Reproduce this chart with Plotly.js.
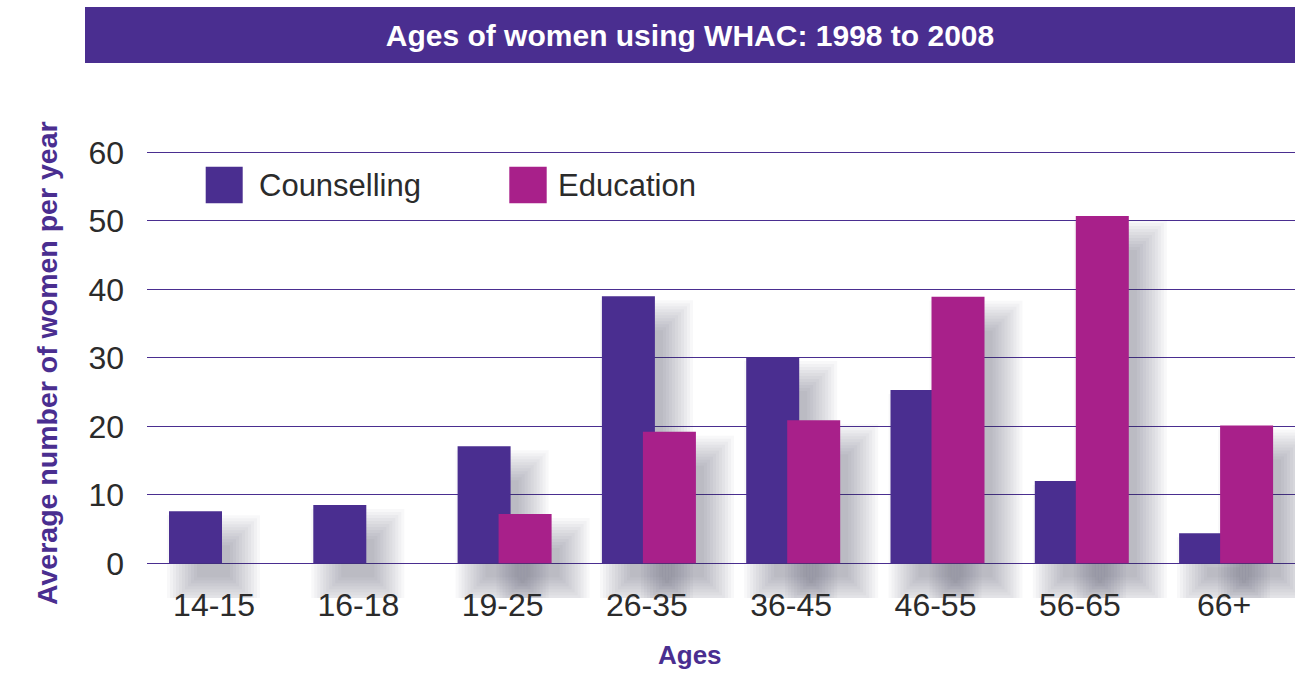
<!DOCTYPE html>
<html>
<head>
<meta charset="utf-8">
<script src="https://cdn.plot.ly/plotly-3.0.1.min.js"></script>
<style>html,body{margin:0;padding:0;background:#fff;}#chart{width:1304px;height:673px;}</style>
</head>
<body>
<div id="chart"></div>
<script>
// ---- data ----
const categories = ['14-15','16-18','19-25','26-35','36-45','46-55','56-65','66+'];
const counselling = [7.6, 8.5, 17.1, 39.0, 30.1, 25.3, 12.0, 4.4];
const education   = [null, null, 7.2, 19.2, 20.9, 38.9, 50.7, 20.1];
const yTicks = [0, 10, 20, 30, 40, 50, 60];
const seriesNames = ['Counselling', 'Education'];
const titleText = 'Ages of women using WHAC: 1998 to 2008';
const yTitle = 'Average number of women per year';
const xTitle = 'Ages';

// ---- style / geometry ----
const W = 1304, H = 673;
const M = {l: 147, r: 9, t: 145, b: 75};
const plotW = W - M.l - M.r, plotH = H - M.t - M.b;
const PPY = 6.85;                 // px per y unit
const y0px = 563.3;               // pixel of y = 0
const yMax = 60 + (y0px - 60 * PPY - M.t) / PPY;
const yMin = -(H - M.b - y0px) / PPY;
const PPX = 144.3;                // px per category
const c0px = 214;                 // pixel of first category centre
const xMin = -(c0px - M.l) / PPX;
const xMax = xMin + plotW / PPX;
const barW = 53 / PPX;
const offC = -45 / PPX, offE = -4 / PPX;
const purple = '#4A2E90', magenta = '#A8208A', textCol = '#2b2b2b';
const FONT = 'Liberation Sans, Arial, sans-serif';

const px2x = px => (px - M.l) / plotW;
const px2y = py => (H - M.b - py) / plotH;

// ---- soft drop shadows built from the same values ----
const traces = [];
const dx = 18, dy = 24, spreads = [];
for (let e = -10; e <= 20; e += 3) spreads.push(e);
[[counselling, offC], [education, offE]].forEach(([vals, off]) => {
  spreads.forEach(e => {
    const base = vals.map(v => v == null ? null : -(dy + e) / PPY);
    const len = vals.map((v, i) => v == null ? null : (v - (dy - e) / PPY) - base[i]);
    traces.push({
      type: 'bar', x: categories, y: len, base: base,
      offset: off + (dx - e) / PPX, width: barW + 2 * e / PPX,
      marker: {color: 'rgba(55,58,72,0.036)', line: {width: 0}},
      hoverinfo: 'skip', showlegend: false
    });
  });
});

traces.push({
  type: 'bar', name: seriesNames[0], x: categories, y: counselling,
  offset: offC, width: barW, marker: {color: purple, line: {width: 0}}, showlegend: false
});
traces.push({
  type: 'bar', name: seriesNames[1], x: categories, y: education,
  offset: offE, width: barW, marker: {color: magenta, line: {width: 0}}, showlegend: false
});

const layout = {
  width: W, height: H,
  margin: M,
  paper_bgcolor: '#fff', plot_bgcolor: '#fff',
  barmode: 'overlay',
  font: {family: FONT, color: textCol},
  title: {
    text: '<b>' + titleText + '</b>',
    font: {family: FONT, size: 30, color: '#fff'},
    x: 690 / W, xanchor: 'center', xref: 'container',
    y: 1 - 35 / H, yanchor: 'middle', yref: 'container'
  },
  xaxis: {
    type: 'category', range: [xMin, xMax],
    anchor: 'free', position: px2y(y0px),
    showgrid: false, zeroline: false, showline: false, ticks: '',
    tickfont: {family: FONT, size: 32, color: textCol},
    ticklabelstandoff: 20
  },
  yaxis: {
    range: [yMin, yMax], tickvals: yTicks, ticktext: yTicks.map(String),
    showgrid: true, gridcolor: purple, gridwidth: 1.3,
    zeroline: true, zerolinecolor: purple, zerolinewidth: 1.3,
    showline: false, ticks: '',
    tickfont: {family: FONT, size: 32, color: textCol},
    ticklabelstandoff: 22
  },
  shapes: [
    {type: 'rect', xref: 'paper', yref: 'paper', layer: 'below',
     x0: px2x(85), x1: px2x(1295), y0: px2y(63), y1: px2y(7),
     fillcolor: purple, line: {width: 0}},
    {type: 'rect', xref: 'paper', yref: 'paper',
     x0: px2x(205.7), x1: px2x(242.7), y0: px2y(203.3), y1: px2y(166.7),
     fillcolor: purple, line: {width: 0}},
    {type: 'rect', xref: 'paper', yref: 'paper',
     x0: px2x(509.3), x1: px2x(546.7), y0: px2y(203.3), y1: px2y(166.7),
     fillcolor: magenta, line: {width: 0}}
  ],
  annotations: [
    {text: seriesNames[0], xref: 'paper', yref: 'paper', x: px2x(257), y: px2y(185),
     xanchor: 'left', yanchor: 'middle', showarrow: false,
     font: {family: FONT, size: 31, color: textCol}},
    {text: seriesNames[1], xref: 'paper', yref: 'paper', x: px2x(556), y: px2y(185),
     xanchor: 'left', yanchor: 'middle', showarrow: false,
     font: {family: FONT, size: 31, color: textCol}},
    {text: '<b>' + yTitle + '</b>', xref: 'paper', yref: 'paper', x: px2x(47), y: px2y(363),
     xanchor: 'center', yanchor: 'middle', textangle: -90, showarrow: false,
     font: {family: FONT, size: 28.5, color: purple}},
    {text: '<b>' + xTitle + '</b>', xref: 'paper', yref: 'paper', x: px2x(690), y: px2y(655),
     xanchor: 'center', yanchor: 'middle', showarrow: false,
     font: {family: FONT, size: 26, color: purple}}
  ]
};

Plotly.newPlot('chart', traces, layout, {displayModeBar: false, staticPlot: true});
</script>
</body>
</html>
